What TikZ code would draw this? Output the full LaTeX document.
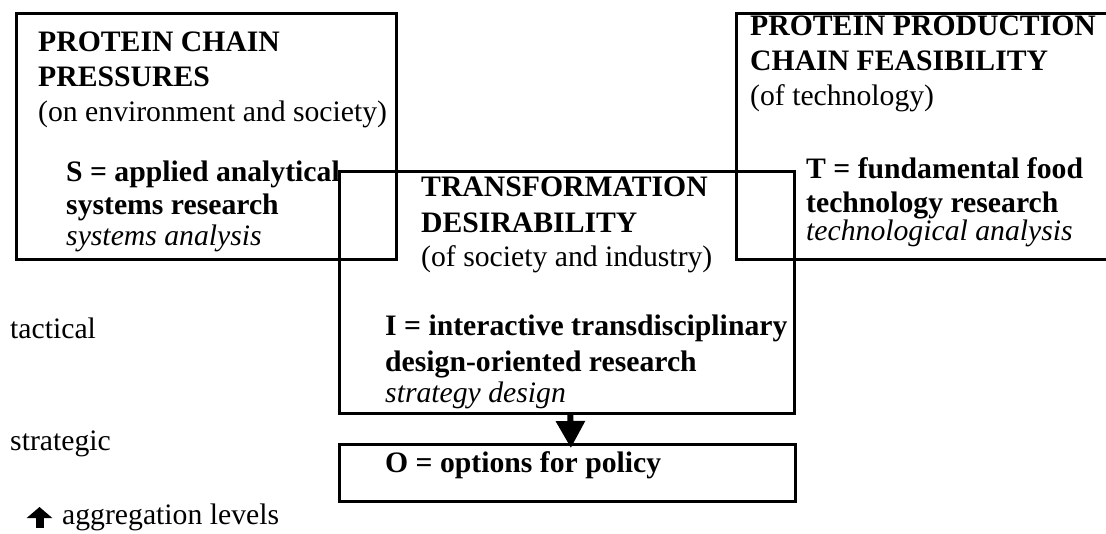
\documentclass[tikz,border=0pt]{standalone}
\usepackage{fontspec}
\setmainfont{Liberation Serif}
\usetikzlibrary{arrows.meta}
\begin{document}
\begin{tikzpicture}[x=1pt,y=-1pt,
  box/.style={draw,line width=2.8pt,inner sep=0pt,anchor=north west},
  txt/.style={inner sep=0pt,anchor=base west,font=\fontsize{29.7}{36}\selectfont},
  head/.style={txt,font=\fontsize{29.7}{36}\selectfont\bfseries},
  note/.style={txt,font=\fontsize{29.7}{36}\selectfont\itshape},
  flow/.style={line width=6pt,-{Triangle[width=28pt,length=27pt]}}]
\useasboundingbox (0,0) rectangle (1106,534);
\begin{scope}
\clip (0,0) rectangle (1106,534);
% boxes
\node[box,minimum width=380pt,minimum height=246pt] (press) at (15,12) {};
\node[box,minimum width=400pt,minimum height=246pt] (feas) at (735,12) {};
\node[box,minimum width=455pt,minimum height=242pt] (trans) at (338,170) {};
\node[box,minimum width=456pt,minimum height=57pt] (pol) at (338,443) {};
\end{scope}
% pressures
\node[head] (p1) at (38,52) {PROTEIN CHAIN};
\node[head] (p2) at (38,87) {PRESSURES};
\node[txt]  (p3) at (38,122) {(on environment and society)};
\node[head] (s1) at (66,182) {S = applied analytical};
\node[head] (s2) at (66,215) {systems research};
\node[note] (s3) at (66,246) {systems analysis};
% feasibility
\node[head] (f1) at (750,36) {PROTEIN PRODUCTION};
\node[head] (f2) at (750,71) {CHAIN FEASIBILITY};
\node[txt]  (f3) at (750,106) {(of technology)};
\node[head] (t1) at (806,179) {T = fundamental food};
\node[head] (t2) at (806,213) {technology research};
\node[note] (t3) at (806,241) {technological analysis};
% desirability
\node[head] (d1) at (421,197) {TRANSFORMATION};
\node[head] (d2) at (421,233) {DESIRABILITY};
\node[txt]  (d3) at (421,267) {(of society and industry)};
\node[head] (i1) at (385,336) {I = interactive transdisciplinary};
\node[head] (i2) at (385,372) {design-oriented research};
\node[note] (i3) at (385,403) {strategy design};
% policy
\node[head] (o1) at (385,472) {O = options for policy};
% levels
\node[txt] (tac) at (10,339) {tactical};
\node[txt] (str) at (10,450) {strategic};
\node[txt] (agg) at (62,524) {aggregation levels};
\coordinate (up0) at (39.5,528);
\coordinate (up1) at (39.5,507);
\draw[line width=8pt,-{Triangle[width=25pt,length=11pt]}] (up0) -- (up1);
% connector
\draw[flow] ([xshift=3.5pt]trans.south) -- ([xshift=3.5pt,yshift=-5pt]pol.north);
\end{tikzpicture}
\end{document}
